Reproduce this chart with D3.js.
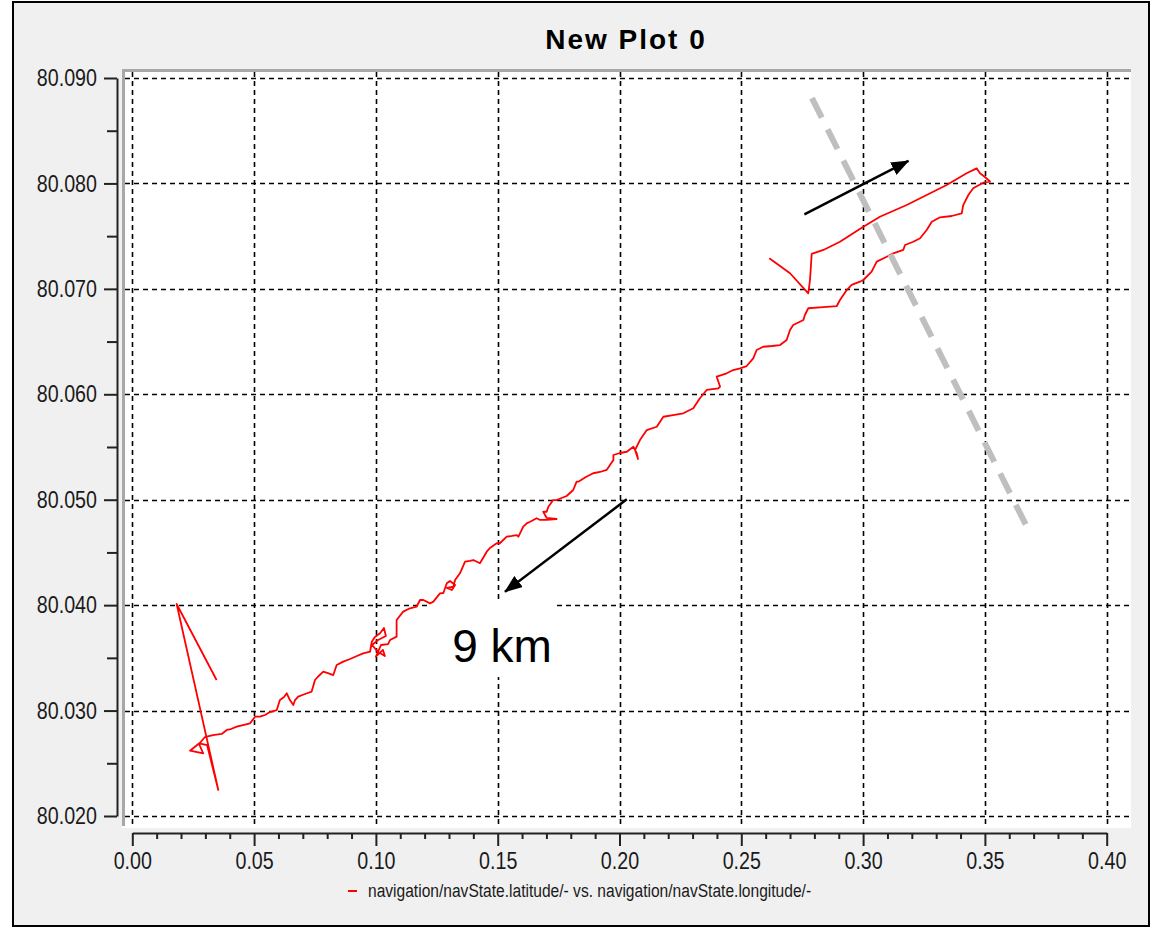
<!DOCTYPE html>
<html><head><meta charset="utf-8">
<script src="https://cdn.jsdelivr.net/npm/d3@7"></script>
<style>html,body{margin:0;padding:0;background:#fff;} svg{display:block;}</style>
</head><body><svg id="c" width="1154" height="929"></svg>
<script>
const title = "New Plot 0";
const legendLabel = "navigation/navState.latitude/- vs. navigation/navState.longitude/-";
const xTicks = [0, 0.05, 0.10, 0.15, 0.20, 0.25, 0.30, 0.35, 0.40];
const yTicks = [80.02, 80.03, 80.04, 80.05, 80.06, 80.07, 80.08, 80.09];
const xMinorStep = 0.01;
const yMinorStep = 0.005;

const trackLon = [
0.0346,0.0182,0.0353,0.0307,0.0275,0.0237,0.0291,0.0274,0.0298,0.0331,
0.0367,0.0388,0.0405,0.0429,0.0454,0.0483,0.0504,0.0524,0.0545,0.0565,
0.0593,0.0606,0.0623,0.0634,0.0647,0.0661,0.0668,0.0681,0.0709,0.0736,
0.0750,0.0762,0.0784,0.0803,0.0825,0.0839,0.0866,0.0894,0.0922,0.0948,
0.0976,0.0983,0.0996,0.1017,0.1033,0.1041,0.1009,0.0984,0.1009,0.1037,
0.1029,0.1000,0.1021,0.1050,0.1058,0.1085,0.1085,0.1112,0.1140,0.1167,
0.1181,0.1195,0.1222,0.1236,0.1263,0.1277,0.1291,0.1304,0.1325,0.1312,
0.1292,0.1318,0.1325,0.1345,0.1366,0.1386,0.1400,0.1427,0.1455,0.1468,
0.1496,0.1509,0.1537,0.1559,0.1578,0.1585,0.1605,0.1619,0.1633,0.1660,
0.1674,0.1701,0.1742,0.1701,0.1687,0.1701,0.1708,0.1728,0.1742,0.1783,
0.1810,0.1824,0.1831,0.1862,0.1892,0.1920,0.1947,0.1975,0.1975,0.2002,
0.2030,0.2057,0.2071,0.2076,0.2064,0.2084,0.2112,0.2153,0.2180,0.2220,
0.2262,0.2303,0.2330,0.2358,0.2406,0.2413,0.2399,0.2440,0.2467,0.2495,
0.2522,0.2549,0.2563,0.2590,0.2626,0.2659,0.2686,0.2700,0.2713,0.2755,
0.2761,0.2775,0.2823,0.2892,0.2905,0.2933,0.2953,0.2987,0.3001,0.3035,
0.3056,0.3097,0.3124,0.3165,0.3172,0.3206,0.3234,0.3261,0.3282,0.3316,
0.3364,0.3405,0.3411,0.3432,0.3452,0.3493,0.3521,0.3500,0.3480,0.3466,
0.3425,0.3343,0.3261,0.3179,0.3069,0.3001,0.2905,0.2837,0.2789,0.2782,
0.2775,0.2700,0.2615
];
const trackLat = [
80.03290,80.04011,80.02247,80.02673,80.02690,80.02619,80.02595,80.02683,80.02749,80.02768,
80.02778,80.02816,80.02825,80.02847,80.02863,80.02879,80.02942,80.02942,80.02958,80.02986,
80.03005,80.03100,80.03129,80.03164,80.03100,80.03053,80.03100,80.03132,80.03157,80.03179,
80.03290,80.03321,80.03369,80.03356,80.03337,80.03432,80.03464,80.03489,80.03518,80.03543,
80.03558,80.03653,80.03698,80.03733,80.03783,80.03707,80.03669,80.03622,80.03556,80.03518,
80.03575,80.03511,80.03622,80.03631,80.03669,80.03701,80.03859,80.03938,80.03970,80.03985,
80.04049,80.04049,80.04017,80.04033,80.04112,80.04115,80.04207,80.04229,80.04191,80.04144,
80.04163,80.04175,80.04238,80.04302,80.04412,80.04419,80.04428,80.04397,80.04507,80.04542,
80.04587,80.04587,80.04649,80.04656,80.04665,80.04649,80.04744,80.04776,80.04791,80.04824,
80.04808,80.04808,80.04817,80.04827,80.04886,80.04886,80.04934,80.04997,80.04997,80.05035,
80.05092,80.05171,80.05171,80.05215,80.05251,80.05263,80.05282,80.05377,80.05424,80.05443,
80.05455,80.05503,80.05440,80.05386,80.05472,80.05566,80.05661,80.05692,80.05787,80.05803,
80.05820,80.05867,80.05962,80.06041,80.06057,80.06072,80.06167,80.06199,80.06230,80.06246,
80.06268,80.06341,80.06420,80.06451,80.06458,80.06467,80.06515,80.06610,80.06657,80.06705,
80.06752,80.06816,80.06825,80.06837,80.06894,80.06989,80.07037,80.07068,80.07084,80.07163,
80.07258,80.07305,80.07337,80.07369,80.07416,80.07447,80.07480,80.07558,80.07637,80.07679,
80.07691,80.07717,80.07795,80.07890,80.07954,80.08007,80.08018,80.08061,80.08096,80.08143,
80.08096,80.07985,80.07890,80.07795,80.07684,80.07590,80.07447,80.07369,80.07331,80.07084,
80.06958,80.07148,80.07290
];

// annotations (data units)
const dividerLon = [0.2790, 0.3685];
const dividerLat = [80.08810, 80.04684];
const arrowOutLon = [0.2759, 0.3186];
const arrowOutLat = [80.07707, 80.08213];
const arrowBackLon = [0.2030, 0.1530];
const arrowBackLat = [80.05004, 80.04127];
const distanceLabel = "9 km";
const distanceLabelLon = [0.1222, 0.1735];
const distanceLabelLat = [80.04020, 80.03318];
const distanceTextPos = [0.1313, 80.03461];

const svg = d3.select("#c");
const sans = "'Liberation Sans',Arial,sans-serif";
const squeeze = 0.82;

// frame
svg.append("rect").attr("x",13).attr("y",2).attr("width",1136).attr("height",924)
  .attr("fill","#f0f0f0").attr("stroke","#000").attr("stroke-width",2);

// plot area
const plot = {x0:122, y0:69, x1:1131, y1:828};
svg.append("rect").attr("x",plot.x0).attr("y",plot.y0).attr("width",plot.x1-plot.x0).attr("height",plot.y1-plot.y0).attr("fill","#fff");
svg.append("rect").attr("x",plot.x0).attr("y",plot.y0).attr("width",plot.x1-plot.x0).attr("height",3).attr("fill","#a8a8a8");
svg.append("rect").attr("x",plot.x0).attr("y",plot.y0).attr("width",3).attr("height",plot.y1-plot.y0-2).attr("fill","#a8a8a8");

const x = d3.scaleLinear().domain([0,0.4]).range([132.3,1106.7]);
const y = d3.scaleLinear().domain([80.02,80.09]).range([816,78]);

// grid
const grid = svg.append("g").attr("stroke","#000").attr("stroke-width",1.6).attr("stroke-dasharray","5,4");
grid.selectAll("line.h").data(yTicks).join("line").attr("class","h")
  .attr("x1",plot.x0+3).attr("x2",plot.x1).attr("y1",d=>Math.round(y(d))+0.5).attr("y2",d=>Math.round(y(d))+0.5);
grid.selectAll("line.v").data(xTicks).join("line").attr("class","v")
  .attr("y1",plot.y0+3).attr("y2",plot.y1).attr("x1",d=>Math.round(x(d))+0.5).attr("x2",d=>Math.round(x(d))+0.5);

// white box behind distance label
svg.append("rect")
  .attr("x",x(distanceLabelLon[0])).attr("y",y(distanceLabelLat[0]))
  .attr("width",x(distanceLabelLon[1])-x(distanceLabelLon[0]))
  .attr("height",y(distanceLabelLat[1])-y(distanceLabelLat[0]))
  .attr("fill","#fff");

// axes
const yMinor = d3.range(80.025, 80.09, 0.01);
const xMinor = d3.range(0, 0.4001, xMinorStep).filter(v => Math.abs(v/0.05 - Math.round(v/0.05))>1e-6);

const gy = svg.append("g").attr("transform","translate(117,0)");
gy.call(d3.axisLeft(y).tickValues(yTicks).tickFormat(d3.format(".3f")).tickSize(13).tickSizeOuter(0).tickPadding(7));
gy.append("g").call(d3.axisLeft(y).tickValues(yMinor).tickFormat("").tickSize(10).tickSizeOuter(0))
  .select(".domain").remove();
gy.selectAll(".tick text").attr("x",0).attr("transform",`translate(-20,0) scale(${squeeze},1)`);

const gx = svg.append("g").attr("transform","translate(0,833)");
gx.call(d3.axisBottom(x).tickValues(xTicks).tickFormat(d3.format(".2f")).tickSize(13).tickSizeOuter(0).tickPadding(6));
gx.append("g").call(d3.axisBottom(x).tickValues(xMinor).tickFormat("").tickSize(6).tickSizeOuter(0))
  .select(".domain").remove();
gx.selectAll(".tick text").attr("transform",`scale(${squeeze},1)`);

svg.selectAll(".tick line, .domain").attr("stroke","#222").attr("stroke-width",2);
svg.selectAll(".tick text").attr("font-family",sans).attr("font-size",24).attr("fill","#1a1a1a");

// track
const pts = trackLon.map((v,i)=>[v, trackLat[i]]);
svg.append("path").datum(pts)
  .attr("d", d3.line().x(d=>x(d[0])).y(d=>y(d[1])))
  .attr("fill","none").attr("stroke","#ff0000").attr("stroke-width",1.8).attr("stroke-linejoin","round");

// divider line
svg.append("line")
  .attr("x1",x(dividerLon[0])).attr("y1",y(dividerLat[0]))
  .attr("x2",x(dividerLon[1])).attr("y2",y(dividerLat[1]))
  .attr("stroke","#bfbfbf").attr("stroke-width",6).attr("stroke-dasharray","22,13");

// arrows
const defs = svg.append("defs");
defs.append("marker").attr("id","ah").attr("markerUnits","userSpaceOnUse")
  .attr("viewBox","0 0 18 14").attr("markerWidth",18).attr("markerHeight",14)
  .attr("refX",17).attr("refY",7).attr("orient","auto")
  .append("path").attr("d","M0,0 L18,7 L0,14 Z").attr("fill","#000");
[[arrowOutLon,arrowOutLat],[arrowBackLon,arrowBackLat]].forEach(([lo,la])=>{
  svg.append("line").attr("x1",x(lo[0])).attr("y1",y(la[0])).attr("x2",x(lo[1])).attr("y2",y(la[1]))
    .attr("stroke","#000").attr("stroke-width",2.5).attr("marker-end","url(#ah)");
});

// distance label
svg.append("text").attr("x",x(distanceTextPos[0])).attr("y",y(distanceTextPos[1]))
  .attr("font-family",sans).attr("font-size",46).attr("fill","#000")
  .text(distanceLabel);

// title
svg.append("text").attr("x",626).attr("y",49).attr("text-anchor","middle")
  .attr("font-family",sans).attr("font-weight","bold")
  .attr("font-size",28).attr("letter-spacing",2).attr("fill","#000").text(title);

// legend
svg.append("line").attr("x1",348).attr("x2",357).attr("y1",891).attr("y2",891).attr("stroke","#ff0000").attr("stroke-width",2);
svg.append("text").attr("transform",`translate(368,897) scale(${squeeze},1)`)
  .attr("font-family",sans).attr("font-size",19)
  .attr("fill","#1a1a1a").text(legendLabel);
</script></body></html>
